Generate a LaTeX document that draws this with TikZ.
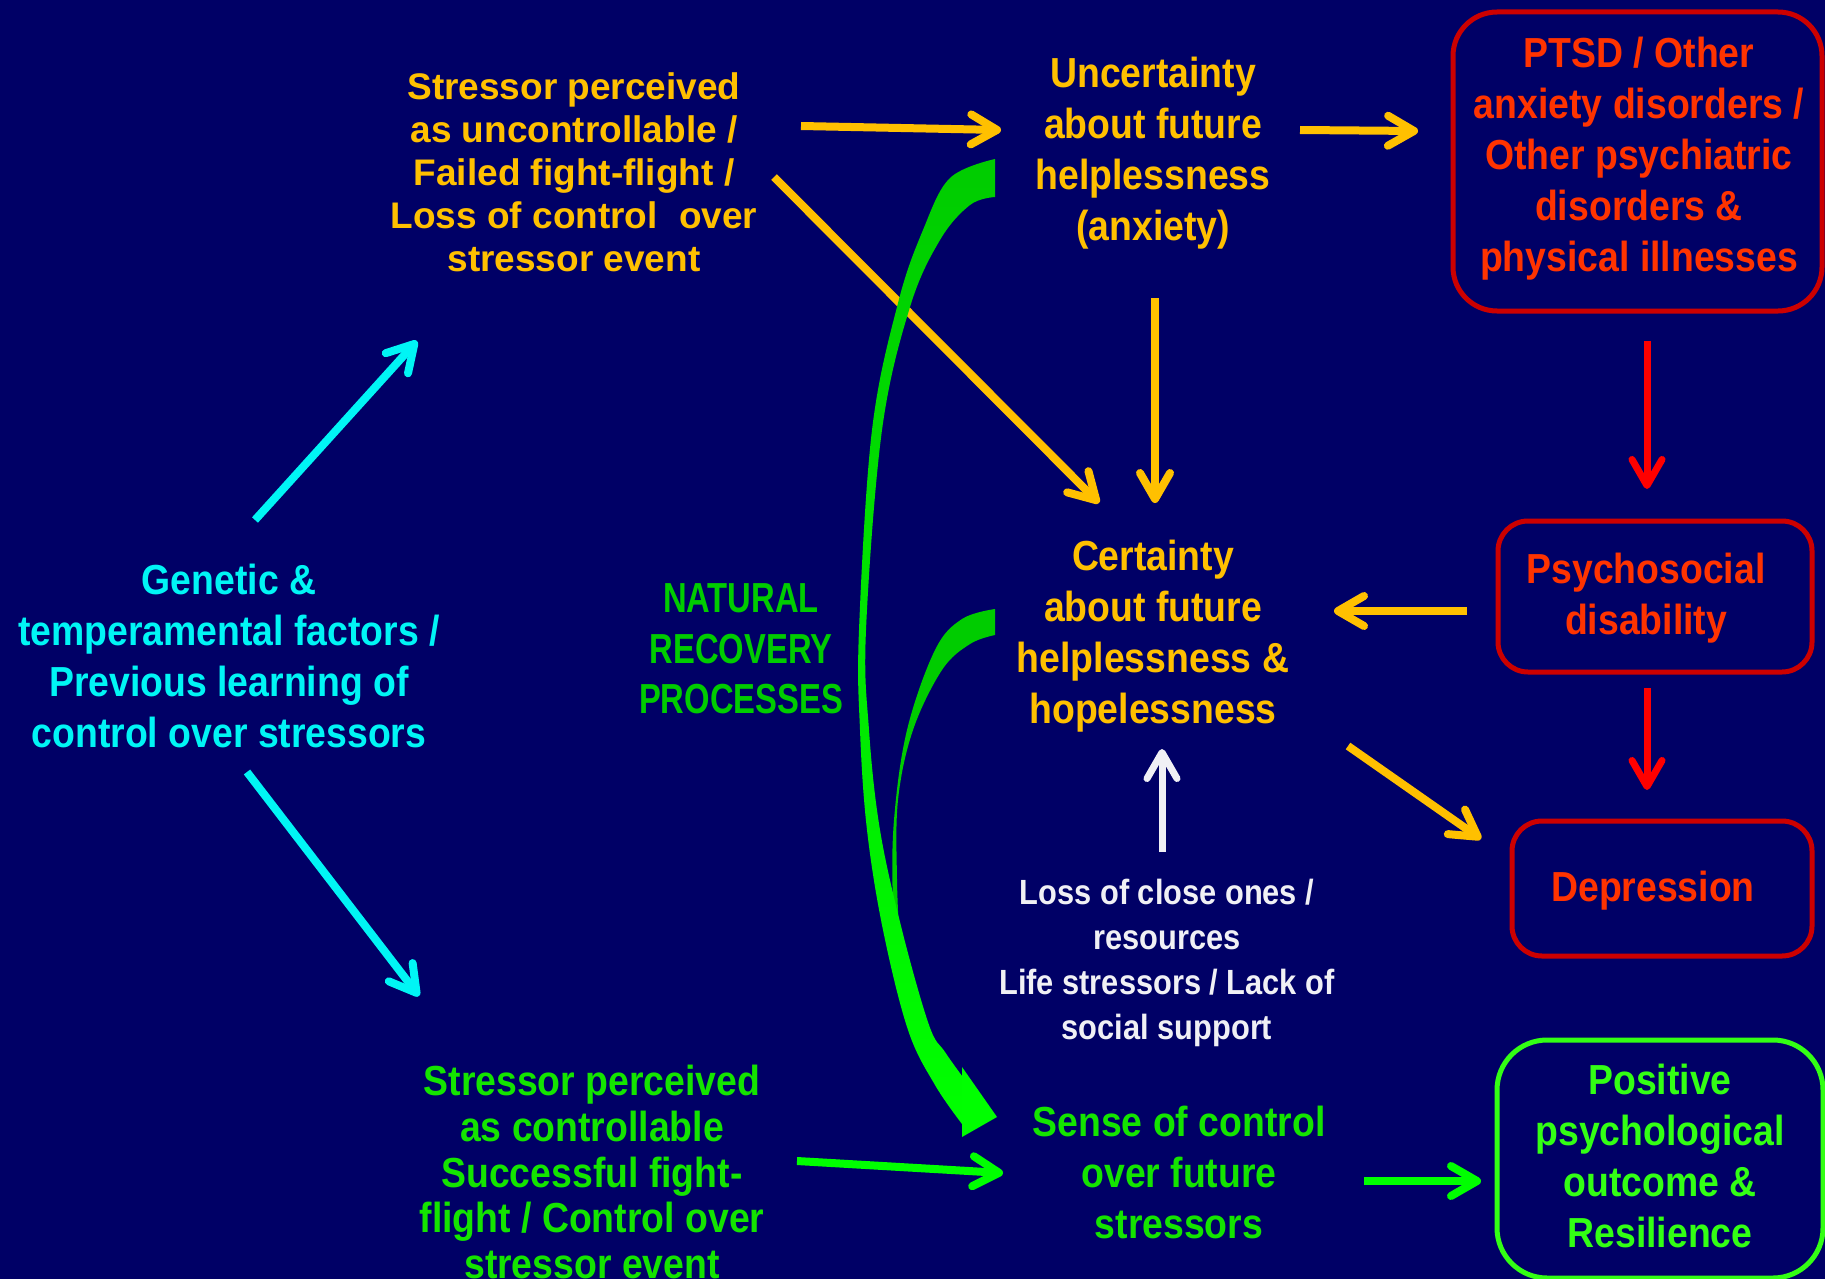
\documentclass[tikz,border=0pt]{standalone}
\usepackage{fontspec}
\setmainfont{Liberation Sans}
\newfontfamily\condf{Liberation Sans}[FakeStretch=0.89]
\newfontfamily\natf{Liberation Sans}[FakeStretch=0.78]
\newfontfamily\lossf{Liberation Sans}[FakeStretch=0.88]
\newfontfamily\widef{Liberation Sans}
\usetikzlibrary{arrows.meta}
\definecolor{bg}{RGB}{0,0,102}
\definecolor{ylw}{RGB}{255,192,0}
\definecolor{cyn}{RGB}{0,245,245}
\definecolor{redtxt}{RGB}{255,51,0}
\definecolor{redbox}{RGB}{204,0,0}
\definecolor{redarr}{RGB}{255,0,0}
\definecolor{grnA}{RGB}{0,204,0}
\definecolor{grnB}{RGB}{20,228,0}
\definecolor{grnC}{RGB}{0,255,0}
\definecolor{grnD}{RGB}{51,255,20}
\definecolor{wht}{RGB}{240,240,245}
\begin{document}
\begin{tikzpicture}[x=0.5pt,y=-0.5pt,
  txt/.style={align=center, inner sep=0pt, font=\condf\bfseries\fontsize{21}{25.5}\selectfont},
  nattxt/.style={align=center, inner sep=0pt, font=\natf\bfseries\fontsize{21}{25.3}\selectfont},
  widetxt/.style={align=center, inner sep=0pt, font=\widef\bfseries\fontsize{18.5}{21.5}\selectfont},
  smalltxt/.style={align=center, inner sep=0pt, font=\lossf\bfseries\fontsize{17.5}{22.5}\selectfont},
  ctltxt/.style={align=center, inner sep=0pt, font=\condf\bfseries\fontsize{21}{22.8}\selectfont},
  box/.style={draw, line width=2.5pt, rounded corners=#1},
  arr/.style={line width=4pt, -{Straight Barb[length=13pt,width=15pt,line cap=round,line join=round]}},
]
\useasboundingbox (0,0) rectangle (1825,1279);
\fill[bg] (0,0) rectangle (1825,1279);

% ---------- boxes ----------
\node[box=22pt, draw=redbox, minimum width=184.5pt, minimum height=149.5pt] (ptsd) at (1637.5,161.5) {};
\node[box=15pt, draw=redbox, minimum width=157pt, minimum height=75.5pt] (psy) at (1655,596.5) {};
\node[box=15pt, draw=redbox, minimum width=150pt, minimum height=67.5pt] (dep) at (1662,888.5) {};
\node[box=25pt, draw=grnD, minimum width=163pt, minimum height=119pt] (pos) at (1660,1159) {};

% ---------- texts ----------
\node[txt, text=redtxt] (ptsdtxt) at (1639,158.5) {PTSD / Other\\anxiety disorders /\\Other psychiatric\\disorders \&\\physical illnesses};
\node[txt, text=redtxt] (psytxt) at (1646,598) {Psychosocial\\disability};
\node[txt, text=redtxt] (deptxt) at (1653,891) {Depression};
\node[txt, text=grnD] (postxt) at (1660,1156) {Positive\\psychological\\outcome \&\\Resilience};

\node[widetxt, text=ylw] (tl) at (574,172) {Stressor perceived\\as uncontrollable /\\Failed fight-flight /\\Loss of control\hspace{0.3em} over\\stressor event};
\node[txt, text=ylw] (unc) at (1153,153) {Uncertainty\\about future\\helplessness\\(anxiety)};
\node[txt, text=ylw] (cert) at (1153,636) {Certainty\\about future\\helplessness \&\\hopelessness};
\node[txt, text=cyn] (gen) at (229,656) {Genetic \&\\temperamental factors /\\Previous learning of\\control over stressors};
\node[nattxt, text=grnA] (nat) at (741,649) {NATURAL\\RECOVERY\\PROCESSES};
\node[smalltxt, text=wht] (loss) at (1167,963) {Loss of close ones /\\resources\\Life stressors / Lack of\\social support};
\node[ctltxt, text=grnB] (ctl) at (592,1172) {Stressor perceived\\as controllable\\Successful fight-\\flight / Control over\\stressor event};
\node[txt, text=grnB] (sense) at (1179,1172) {Sense of control\\over future\\stressors};

% ---------- connector end points ----------
\coordinate (a1s) at (801,126);  \coordinate (a1e) at (1001,130);
\coordinate (a2s) at (1300,130); \coordinate (a2e) at (1418,131);
\coordinate (a3s) at (774,177);  \coordinate (a3e) at (1099,503);
\coordinate (a4s) at (1155,298); \coordinate (a4e) at (1155,503);
\coordinate (a5s) at (1467,611); \coordinate (a5e) at (1334,611);
\coordinate (a6s) at (1348,746); \coordinate (a6e) at (1481,839);
\coordinate (a7s) at (1647,341); \coordinate (a7e) at (1647,489);
\coordinate (a8s) at (1647,688); \coordinate (a8e) at (1647,790);
\coordinate (a9s) at (1162,852); \coordinate (a9e) at (1162,749);
\coordinate (a10s) at (255,520); \coordinate (a10e) at (417,341);
\coordinate (a11s) at (247,772); \coordinate (a11e) at (419,996);
\coordinate (a12s) at (797,1161); \coordinate (a12e) at (1003,1173);
\coordinate (a13s) at (1364,1181); \coordinate (a13e) at (1481,1181);

% ---------- straight connectors ----------
\draw[arr, ylw] (a1s) -- (a1e);
\draw[arr, ylw] (a2s) -- (a2e);
\draw[arr, ylw] (a3s) -- (a3e);
\draw[arr, ylw] (a4s) -- (a4e);
\draw[arr, ylw] (a5s) -- (a5e);
\draw[arr, ylw] (a6s) -- (a6e);
\draw[arr, redarr, line width=3.5pt] (a7s) -- (a7e);
\draw[arr, redarr, line width=3.5pt] (a8s) -- (a8e);
\draw[arr, wht, line width=3.5pt] (a9s) -- (a9e);
\draw[arr, cyn] (a10s) -- (a10e);
\draw[arr, cyn] (a11s) -- (a11e);
\draw[arr, grnC] (a12s) -- (a12e);
\draw[arr, grnC] (a13s) -- (a13e);

% ---------- natural recovery curved arrows ----------
\fill[grnA] plot[smooth, tension=0.6] coordinates {(995,609) (962,619) (935,650) (907,730) (894,820) (893,900) (900,950)}
  -- plot[smooth, tension=0.6] coordinates {(900,950) (897,880) (898,800) (913,730) (942,670) (970,644) (995,635)} -- cycle;
\shade[top color=grnA, middle color=grnA!85!grnC, bottom color=grnC]
  plot[smooth, tension=0.6] coordinates {(995,159) (950,178) (923,230) (898,303) (872,430) (859,630) (860,730) (867,830) (883,930) (908,1030) (935,1085) (962,1124)}
  -- plot[smooth, tension=0.6] coordinates {(965,1080) (945,1052) (929,1025) (902,930) (880,830) (869,730) (866,630) (882,430) (910,307) (940,240) (970,205) (995,197)} -- cycle;
\fill[grnC] (962,1067) -- (997,1117) -- (962,1137) -- cycle;
\end{tikzpicture}
\end{document}
